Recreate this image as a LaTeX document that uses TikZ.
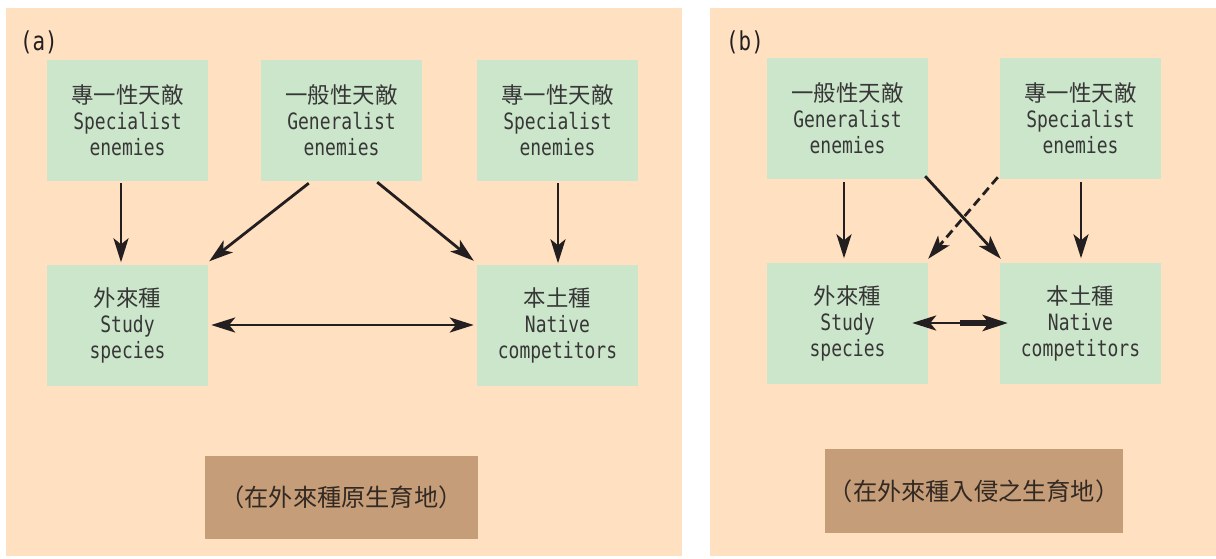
\documentclass[tikz,border=0pt]{standalone}
\usepackage{fontspec}
\setmainfont{DejaVu Sans Mono}[FakeStretch=0.8]
\newfontfamily\cjk{Noto Sans CJK TC}
\usetikzlibrary{arrows.meta,calc}
\definecolor{peach}{RGB}{255,224,192}
\definecolor{mint}{RGB}{204,230,203}
\definecolor{tan}{RGB}{197,157,120}
\definecolor{ink}{RGB}{35,31,32}
\definecolor{txt}{RGB}{55,55,55}
\begin{document}
\begin{tikzpicture}[x=1pt,y=-1pt,
  panel/.style={fill=peach,draw=none},
  box/.style={rectangle,fill=mint,draw=none,minimum width=161pt,minimum height=121pt,inner sep=0pt,
    align=center,text=txt,font=\fontsize{22.5}{26}\selectfont},
  lbl/.style={rectangle,fill=tan,draw=none,inner sep=0pt,text=ink!90!brown,
    font=\cjk\fontsize{24.2}{26}\selectfont},
  tag/.style={anchor=west,inner sep=0pt,text=ink,font=\fontsize{26}{28}\selectfont},
  arr/.style={draw=ink,line width=2.8pt,-{Stealth[length=24pt,width=15pt,inset=6pt]}},
  darr/.style={arr,{Stealth[length=24pt,width=15pt,inset=6pt]}-{Stealth[length=24pt,width=15pt,inset=6pt]}},
  thk/.style={draw=ink,line width=5.5pt,-{Stealth[length=25pt,width=16pt,inset=6pt]}},
  dsh/.style={arr,dash pattern=on 9pt off 5pt}]
\useasboundingbox[fill=white] (0,0) rectangle (1216,558);
\fill[panel] (6,8) rectangle (682,556);
\fill[panel] (710,8) rectangle (1216,556);

\newcommand{\cj}[1]{{\cjk\fontsize{22.4}{26}\selectfont #1}}
% panel a
\node[tag] (ta) at (20,42) {(a)};
\node[box] (sa) at (127.5,120.5) {\cj{專一性天敵}\\Specialist\\enemies};
\node[box] (ga) at (341.5,120.5) {\cj{一般性天敵}\\Generalist\\enemies};
\node[box] (ra) at (557.5,120.5) {\cj{專一性天敵}\\Specialist\\enemies};
\node[box] (sta) at (127.5,325) {\cj{外來種}\\Study\\species};
\node[box] (na) at (557.5,325) {\cj{本土種}\\Native\\competitors};
\node[lbl,minimum width=273pt,minimum height=83pt] (la) at (341.5,497.5) {（在外來種原生育地）};

\draw[arr] ($(sa.south)+(-6.5,2)$) -- ($(sta.north)+(-6.5,-2)$);
\draw[arr] ($(ga.south west)+(48,2)$) -- ($(sta.north east)+(1,-3)$);
\draw[arr] ($(ga.south east)+(-45,1)$) -- ($(na.north west)+(-3,-3.5)$);
\draw[arr] ($(ra.south)+(0.5,2)$) -- ($(na.north)+(0.5,-1)$);
\draw[darr] ($(sta.east)+(3,0)$) -- ($(na.west)+(-3,0)$);

% panel b
\node[tag] (tb) at (726,42) {(b)};
\node[box] (gb) at (847.5,118.5) {\cj{一般性天敵}\\Generalist\\enemies};
\node[box] (sb) at (1080.5,118.5) {\cj{專一性天敵}\\Specialist\\enemies};
\node[box] (stb) at (847.5,323) {\cj{外來種}\\Study\\species};
\node[box] (nb) at (1080.5,323) {\cj{本土種}\\Native\\competitors};
\node[lbl,minimum width=298pt,minimum height=84pt] (lb) at (974,491) {（在外來種入侵之生育地）};

\draw[arr] ($(gb.south)+(-3.5,3)$) -- ($(stb.north)+(-3.5,-4)$);
\draw[arr] ($(gb.south east)+(-3,-3)$) -- ($(nb.north west)+(1,-3.5)$);
\draw[dsh] ($(sb.south west)+(-2,-2)$) -- ($(stb.north east)+(0,-3.5)$);
\draw[arr] ($(sb.south)+(0.5,3)$) -- ($(nb.north)+(0.5,-4)$);
\coordinate (m) at ($(stb.east)!0.45!(nb.west)$);
\draw[arr] (m) -- ($(stb.east)+(-16,0)$);
\draw[thk] (m) -- ($(nb.west)+(8,0)$);
\end{tikzpicture}
\end{document}
